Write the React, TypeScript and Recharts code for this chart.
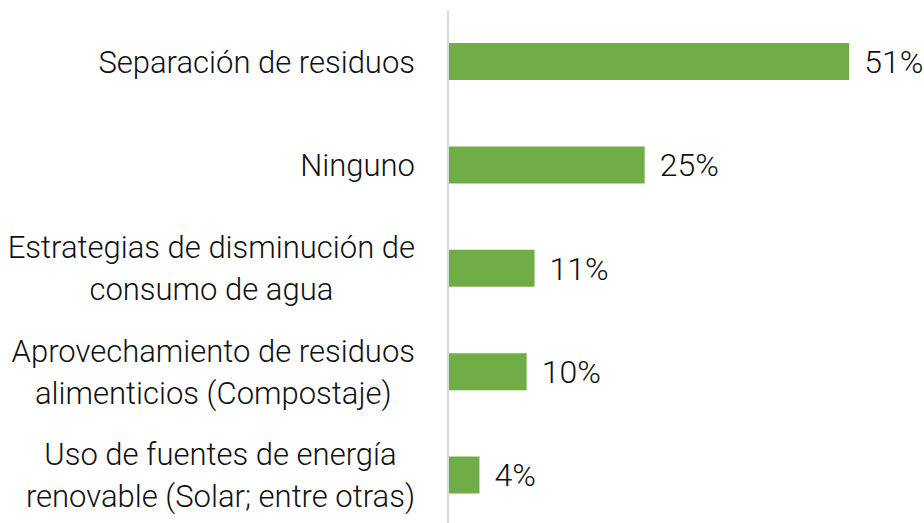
import { Bar, BarChart, LabelList, XAxis, YAxis } from 'recharts';

const categories = [
  'Separación de residuos',
  'Ninguno',
  'Estrategias de disminución de|consumo de agua',
  'Aprovechamiento de residuos|alimenticios (Compostaje)',
  'Uso de fuentes de energía|renovable (Solar; entre otras)',
];
const percentages = [51, 25, 11, 10, 4];

const chartData = categories.map((name, i) => ({ name, value: percentages[i] }));

const FONT = 'Roboto, "Noto Sans", sans-serif';
const FONT_SIZE = 31;

let measureCtx: CanvasRenderingContext2D | null = null;
function textWidth(s: string) {
  if (!measureCtx) measureCtx = document.createElement('canvas').getContext('2d');
  if (!measureCtx) return s.length * FONT_SIZE * 0.5;
  measureCtx.font = `300 ${FONT_SIZE}px ${FONT}`;
  return measureCtx.measureText(s).width;
}

function CategoryTick({ x, y, payload }: any) {
  const lines: string[] = String(payload.value).split('|');
  const right = x - 25;
  const lineH = 42;
  if (lines.length === 1) {
    return (
      <text x={right} y={y} dy="0.35em" textAnchor="end" fill="#111" fontSize={FONT_SIZE} fontWeight={300} fontFamily={FONT}>
        {lines[0]}
      </text>
    );
  }
  const blockW = Math.max(...lines.map(textWidth));
  const cx = right - blockW / 2;
  const startY = y - ((lines.length - 1) * lineH) / 2;
  return (
    <text textAnchor="middle" fill="#111" fontSize={FONT_SIZE} fontWeight={300} fontFamily={FONT}>
      {lines.map((l, i) => (
        <tspan key={i} x={cx} y={startY + i * lineH} dy="0.35em">
          {l}
        </tspan>
      ))}
    </text>
  );
}

export default function App() {
  return (
    <div style={{ position: 'absolute', left: 0, top: 0, width: 924, height: 523, overflow: 'hidden', background: '#fff' }}>
      <BarChart
        width={924}
        height={527}
        data={chartData}
        layout="vertical"
        margin={{ top: 10, right: 4, bottom: 0, left: 0 }}
        barSize={37}
      >
        <XAxis type="number" domain={[0, 60]} hide />
        <YAxis
          type="category"
          dataKey="name"
          width={448}
          axisLine={{ stroke: '#d9d9d9', strokeWidth: 2 }}
          tickLine={false}
          tick={<CategoryTick />}
          interval={0}
        />
        <Bar dataKey="value" fill="#70ad47" isAnimationActive={false}>
          <LabelList
            dataKey="value"
            position="right"
            offset={15}
            formatter={(v: any) => `${v}%`}
            fill="#111"
            fontSize={32}
            fontWeight={300}
            fontFamily={FONT}
          />
        </Bar>
      </BarChart>
    </div>
  );
}
